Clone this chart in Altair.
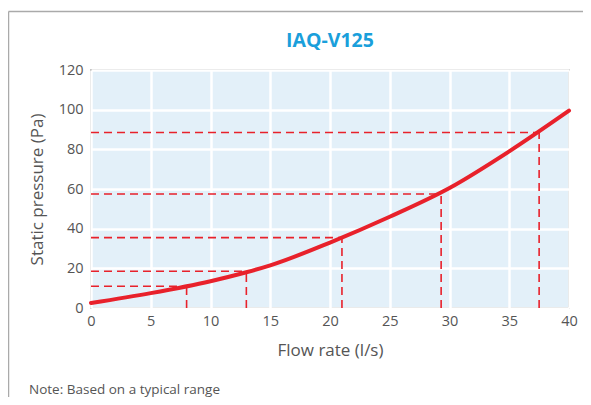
import altair as alt
import pandas as pd

# curve
flow = [0, 5, 10, 13, 15, 20, 25, 30, 35, 40]
pressure = [2.5, 7.5, 13.5, 18, 21.5, 33, 46, 60.5, 79, 99.5]

# dashed reference points
ref_flow = [8, 13, 21, 29.3, 37.5]
ref_pressure = [11, 18.5, 35.5, 57.5, 88.5]

title_text = "IAQ-V125"
note_text = "Note: Based on a typical range"

W, H = 478, 238
PL, PT = 83, 62
CW, CH = 575, 389

RED = "#e8212b"
FONT = "Open Sans"

curve_df = pd.DataFrame({"flow": flow, "pressure": pressure})

h_rows, v_rows = [], []
for i, (fx, py) in enumerate(zip(ref_flow, ref_pressure)):
    h_rows.append({"id": i, "x0": 0, "x1": fx, "y": py})
    v_rows.append({"id": i, "x": fx, "y0": 0, "y1": py})
h_df = pd.DataFrame(h_rows)
v_df = pd.DataFrame(v_rows)

xscale = alt.Scale(domain=[0, 40], nice=False, zero=True)
yscale = alt.Scale(domain=[0, 120], nice=False)

common = dict(ticks=False, domain=False, labelOverlap=False, labelFlush=False,
              grid=True, gridColor="white", gridWidth=2.5, gridOpacity=1,
              labelFont=FONT, titleFont=FONT, labelFontSize=14.5, titleFontSize=17,
              labelColor="#555", titleColor="#555", titleFontWeight="normal")
xaxis = alt.Axis(values=[0, 5, 10, 15, 20, 25, 30, 35, 40], title="Flow rate (l/s)",
                 labelPadding=6, titlePadding=15, **common)
yaxis = alt.Axis(values=[0, 20, 40, 60, 80, 100, 120], title="Static pressure (Pa)",
                 labelPadding=8, titlePadding=12, **common)

vlines = alt.Chart(v_df).mark_rule(color=RED, strokeWidth=1.6, strokeDash=[8, 5]).encode(
    x=alt.X("x:Q", scale=xscale, axis=xaxis), y=alt.Y("y0:Q", scale=yscale, axis=yaxis), y2="y1:Q")
hlines = alt.Chart(h_df).mark_rule(color=RED, strokeWidth=1.6, strokeDash=[8, 5]).encode(
    x=alt.X("x0:Q", scale=xscale, axis=xaxis), x2="x1:Q", y=alt.Y("y:Q", scale=yscale, axis=yaxis))
curve = alt.Chart(curve_df).mark_line(color=RED, strokeWidth=4, interpolate="monotone",
                                      strokeCap="round").encode(
    x=alt.X("flow:Q", scale=xscale, axis=xaxis),
    y=alt.Y("pressure:Q", scale=yscale, axis=yaxis),
)

frame_top = alt.Chart(pd.DataFrame({"a": [0]})).mark_rule(color="#aaaaaa", strokeWidth=1.5).encode(
    x=alt.value(-82.5), x2=alt.value(CW - PL), y=alt.value(-58.5))
frame_left = alt.Chart(pd.DataFrame({"a": [0]})).mark_rule(color="#aaaaaa", strokeWidth=1.5).encode(
    x=alt.value(-82.5), y=alt.value(-58.5), y2=alt.value(CH - PT))

title = alt.Chart(pd.DataFrame({"t": [title_text]})).mark_text(
    align="center", baseline="middle", font=FONT, fontSize=19.5, fontWeight="bold",
    color="#1a9fdb").encode(x=alt.value(W / 2), y=alt.value(-29), text="t:N")

note = alt.Chart(pd.DataFrame({"t": [note_text]})).mark_text(
    align="left", baseline="middle", font=FONT, fontSize=13.5, color="#555").encode(
    x=alt.value(-62), y=alt.value(320), text="t:N")

chart = alt.layer(vlines, hlines, curve, frame_top, frame_left, title, note).properties(
    width=W, height=H,
    autosize=alt.AutoSizeParams(type="none"),
    padding={"left": PL, "top": PT, "right": CW - PL - W, "bottom": CH - PT - H},
    background="white",
).configure_view(fill="#e3f0f9", stroke="#999999", strokeWidth=1.5)

chart.save("out.html", embed_options={"renderer": "svg", "actions": False})
